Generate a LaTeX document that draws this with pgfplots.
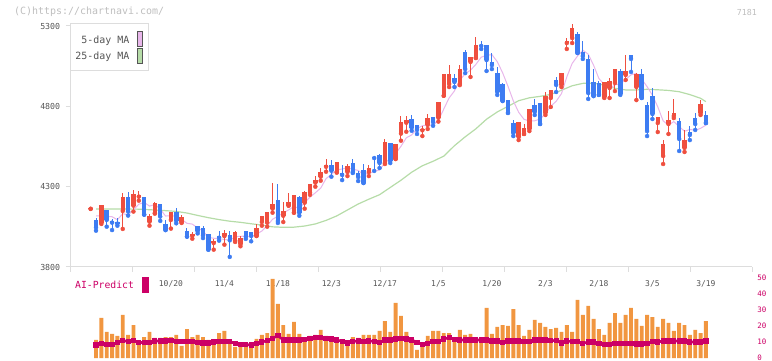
\documentclass[border=0pt]{standalone}
\usepackage{fontspec}
\setmainfont{DejaVu Sans Mono}
\usepackage{pgfplots}
\usepackage{pgfplotstable}
\pgfplotsset{compat=1.18}
\definecolor{candred}{RGB}{239,79,63}
\definecolor{candblue}{RGB}{61,124,242}
\definecolor{volorange}{RGB}{241,150,64}
\definecolor{aimag}{RGB}{204,0,102}
\definecolor{mapink}{RGB}{232,182,234}
\definecolor{magreen}{RGB}{182,220,168}
\definecolor{axisgray}{RGB}{221,221,221}
\definecolor{labgray}{RGB}{85,85,85}
\definecolor{copygray}{RGB}{190,190,190}

\pgfplotstableread{
x o h l c
-1 4162 4168 4162 4168
1 4076 4186 4068 4186
5 4149 4261 4037 4236
7 4182 4278 4145 4254
8 4238 4270 4213 4251
10 4082 4130 4057 4117
11 4136 4207 4132 4198
14 4093 4143 4039 4143
16 4078 4122 4074 4111
18 3994 4018 3976 4005
22 3949 3972 3908 3964
24 3992 4032 3939 4010
26 3964 4026 3956 4018
27 3941 3991 3929 3978
30 3993 4068 3993 4043
31 4080 4117 4057 4117
32 4076 4143 4051 4142
33 4163 4323 4138 4192
35 4119 4205 4080 4149
36 4182 4261 4182 4205
37 4138 4248 4138 4248
39 4200 4273 4163 4267
40 4262 4317 4249 4317
41 4325 4366 4300 4341
42 4362 4416 4337 4391
43 4424 4472 4393 4435
45 4391 4454 4387 4454
47 4391 4441 4366 4429
51 4391 4435 4366 4416
54 4447 4597 4441 4578
56 4472 4566 4472 4566
57 4630 4740 4586 4702
58 4698 4740 4642 4715
61 4651 4678 4615 4657
62 4684 4752 4659 4727
64 4729 4827 4705 4827
65 4866 5001 4866 5001
66 4939 5057 4920 5001
68 4939 5057 4932 5032
70 5076 5107 4983 5107
71 5101 5232 5101 5182
79 4609 4702 4590 4702
80 4628 4690 4628 4665
81 4659 4783 4646 4783
84 4759 4889 4746 4864
85 4852 4902 4796 4902
87 4933 5007 4920 5007
88 5194 5225 5157 5207
89 5225 5312 5194 5288
95 4858 4951 4852 4951
96 4914 4976 4852 4958
97 4945 5032 4895 5032
99 4995 5120 4964 5020
101 4920 5007 4839 5001
105 4696 4734 4640 4734
106 4491 4590 4441 4566
107 4690 4771 4628 4715
108 4740 4846 4727 4758
110 4541 4653 4516 4590
113 4758 4839 4746 4815
}\upc

\pgfplotstableread{
x o h l c
0 4093 4103 4026 4045
2 4155 4155 4051 4093
3 4089 4099 4030 4076
4 4082 4103 4057 4070
6 4236 4268 4120 4145
9 4236 4236 4126 4126
12 4192 4192 4087 4114
13 4068 4093 4030 4030
15 4143 4168 4072 4089
17 4024 4043 3989 3989
19 4055 4055 4009 4022
20 4043 4055 3980 3997
21 4005 4005 3908 3908
23 3993 4024 3964 3982
25 3997 4024 3863 3966
28 4026 4026 3975 3989
29 4018 4018 3960 3993
34 4217 4317 4074 4086
38 4236 4242 4119 4138
44 4435 4466 4362 4399
46 4385 4435 4341 4373
48 4447 4472 4385 4391
49 4385 4398 4335 4360
50 4404 4441 4323 4323
52 4485 4491 4398 4478
53 4497 4503 4416 4447
55 4572 4572 4447 4460
59 4721 4746 4648 4667
60 4684 4684 4628 4653
63 4734 4734 4679 4702
67 4976 5001 4920 4951
69 5138 5151 5007 5032
72 5182 5207 5157 5176
73 5182 5182 5020 5088
74 5076 5132 5032 5057
75 5007 5045 4871 4889
76 4939 4945 4833 4833
77 4839 4839 4759 4759
78 4696 4715 4615 4634
82 4808 4846 4746 4765
83 4821 4821 4690 4690
86 4964 4983 4889 4933
90 5250 5263 5132 5132
91 5138 5207 5095 5113
92 5095 5120 4846 4883
93 4951 5032 4864 4864
94 4945 4958 4871 4871
98 5020 5032 4871 4877
100 5120 5120 5014 5095
102 5001 5032 4852 4852
103 4808 4827 4615 4646
104 4864 4914 4721 4752
109 4709 4727 4522 4597
111 4640 4678 4590 4622
112 4727 4758 4653 4690
114 4746 4771 4696 4696
}\downc

\pgfplotstableread{
x v
0 4118
1 4117
2 4115
3 4113
4 4094
5 4132
6 4124
7 4156
8 4191
9 4202
10 4179
11 4189
12 4161
13 4117
14 4120
15 4115
16 4097
17 4072
18 4067
19 4043
20 4025
21 3984
22 3979
23 3975
24 3972
25 3966
26 3988
27 3991
28 3992
29 3989
30 4004
31 4024
32 4057
33 4097
34 4116
35 4137
36 4155
37 4176
38 4165
39 4201
40 4235
41 4262
42 4291
43 4350
44 4377
45 4404
46 4410
47 4418
48 4409
49 4401
50 4375
51 4384
52 4394
53 4405
54 4448
55 4476
56 4506
57 4551
58 4604
59 4622
60 4661
61 4679
62 4684
63 4681
64 4713
65 4783
66 4852
67 4896
68 4962
69 5003
70 5025
71 5061
72 5106
73 5117
74 5122
75 5078
76 5009
77 4925
78 4834
79 4763
80 4719
81 4709
82 4710
83 4721
84 4753
85 4801
86 4831
87 4879
88 4983
89 5067
90 5113
91 5149
92 5125
93 5056
94 4973
95 4936
96 4905
97 4935
98 4938
99 4968
100 4996
101 5005
102 4969
103 4923
104 4869
105 4797
106 4710
107 4683
108 4705
109 4674
110 4645
111 4656
112 4651
113 4663
114 4683
}\mafive

\pgfplotstableread{
x v
0 4161
4 4161
8 4160
12 4153
15 4146
17 4136
19 4121
21 4107
23 4095
25 4085
27 4078
29 4069
31 4061
33 4050
35 4047
37 4048
39 4055
41 4068
43 4090
45 4118
47 4155
49 4192
51 4222
53 4250
55 4295
57 4340
59 4390
61 4430
63 4458
65 4490
67 4555
69 4610
71 4660
73 4720
75 4765
77 4800
79 4835
81 4853
83 4862
85 4874
87 4900
89 4928
91 4943
93 4944
95 4932
97 4912
99 4902
101 4902
103 4906
105 4903
107 4899
109 4891
111 4873
113 4850
114 4829
}\matwentyfive

\pgfplotstableread{
x v
0 11.25
1 25
2 16.25
3 15
4 13.75
5 26.9
6 14.4
7 20.6
8 10.6
9 13.1
10 16.25
11 12.5
12 12.5
13 13.1
14 13.1
15 14.4
16 7.5
17 18.1
18 13.1
19 14.4
20 13.1
21 11.25
22 11.25
23 15.6
24 16.9
25 11.25
26 6.9
27 8.1
28 6.9
29 6.9
30 11.9
31 14.4
32 15.6
33 49.4
34 33.75
35 20.6
36 15
37 22.5
38 15
39 13.1
40 13.75
41 14.4
42 17.5
43 13.75
44 11.25
45 13.1
46 10
47 8.75
48 13.1
49 12.5
50 14.4
51 14.4
52 14.4
53 16.9
54 23.1
55 16.25
56 34.4
57 26.25
58 16.25
59 13.1
60 5
61 7.5
62 13.75
63 16.9
64 16.9
65 15.6
66 15.6
67 13.1
68 17.5
69 14.4
70 15
71 13.1
72 13.1
73 31.25
74 15
75 19.4
76 20.6
77 20
78 30.6
79 20.6
80 13.75
81 17.5
82 23.75
83 21.9
84 19.4
85 18.1
86 18.75
87 16.25
88 20.6
89 16.25
90 36.25
91 26.9
92 32.5
93 24.4
94 18.1
95 14.4
96 21.9
97 28.1
98 21.9
99 26.9
100 31.25
101 24.4
102 20
103 26.9
104 25.6
105 19.4
106 24.4
107 21.9
108 16.9
109 21.9
110 20.6
111 14.4
112 17.5
113 15.6
114 23.1
}\vol

\pgfplotstableread{
x v
0 8.1
1 9.0
2 8.6
3 8.6
4 9.6
5 10.8
6 10.4
7 11.0
8 9.6
9 9.8
10 9.8
11 10.6
12 10.6
13 10.6
14 11.0
15 10.2
16 10.2
17 10.2
18 10.2
19 9.6
20 9.4
21 9.4
22 10.0
23 10.2
24 10.2
25 10.2
26 9.2
27 8.4
28 8.4
29 8.1
30 9.2
31 10.0
32 10.8
33 12.3
34 14.0
35 11.25
36 11.25
37 11.25
38 11.25
39 11.7
40 12.1
41 12.7
42 12.7
43 12.1
44 11.9
45 11.25
46 10.4
47 9.4
48 10.4
49 10.6
50 10.2
51 10.6
52 10.4
53 9.6
54 11.25
55 11.25
56 11.9
57 12.3
58 11.9
59 11.25
60 9.8
61 8.5
62 9.2
63 10.4
64 10.4
65 11.9
66 12.7
67 11.7
68 11.25
69 11.25
70 11.25
71 11.25
72 11.25
73 11.25
74 10.6
75 10.6
76 9.9
77 10.6
78 10.6
79 10.6
80 10.4
81 10.4
82 11.25
83 11.25
84 11.25
85 11.0
86 10.8
87 9.4
88 10.6
89 10.2
90 10.2
91 9.2
92 10.0
93 10.0
94 9.2
95 8.5
96 8.5
97 9.2
98 9.2
99 9.2
100 9.2
101 8.8
102 8.8
103 9.2
104 10.4
105 10.0
106 10.6
107 10.6
108 10.6
109 10.6
110 10.6
111 10.0
112 10.0
113 10.0
114 10.6
}\ai

\begin{document}
\begin{tikzpicture}
\path[use as bounding box] (0bp,0bp) rectangle (772bp,361bp);
\begin{axis}[
  at={(70.7bp,94bp)}, anchor=south west,
  scale only axis, width=681.6bp, height=241bp,
  xmin=-4.73, xmax=122.67, ymin=3800, ymax=5300,
  clip=false,
  axis x line=bottom, axis y line=left,
  every outer x axis line/.append style={-},
  every outer y axis line/.append style={-},
  axis line style={axisgray, line width=1bp, -},
  tick style={axisgray, line width=1bp},
  tick align=outside, major tick length=5bp,
  ytick={3800,4300,4800,5300},
  xtick={-4.73,6.85,18.43,30.01,41.59,53.18,64.76,76.34,87.92,99.50,111.08,122.67},
  xticklabels={},
  /pgf/number format/assume math mode=true,
  /pgf/number format/1000 sep={},
  yticklabel style={font=\fontsize{8.3}{10}\selectfont, text=labgray, xshift=-2bp},
  extra x ticks={14,24,34,44,54,64,74,84,94,104,114},
  extra x tick labels={10/20,11/4,11/18,12/3,12/17,1/5,1/20,2/3,2/18,3/5,3/19},
  extra x tick style={major tick length=0pt, tick style={draw=none},
     xticklabel style={yshift=-10bp, font=\fontsize{8}{10}\selectfont, text=labgray}},
]
\addplot[magreen, line width=1.2bp, no markers] table[x=x,y=v] {\matwentyfive};
\addplot[mapink, line width=1bp, no markers] table[x=x,y=v] {\mafive};
% wicks
\addplot[only marks, mark=none, candred,
  error bars/.cd, y dir=plus, y explicit, error mark=none,
  error bar style={line width=1bp, candred}]
  table[x=x, y=l, y error expr=\thisrow{h}-\thisrow{l}] {\upc};
\addplot[only marks, mark=none, candblue,
  error bars/.cd, y dir=plus, y explicit, error mark=none,
  error bar style={line width=1bp, candblue}]
  table[x=x, y=l, y error expr=\thisrow{h}-\thisrow{l}] {\downc};
% bodies
\addplot[only marks, mark=none, candred,
  error bars/.cd, y dir=plus, y explicit, error mark=none,
  error bar style={line width=4.5bp, candred}]
  table[x=x, y=o, y error expr=\thisrow{c}-\thisrow{o}] {\upc};
\addplot[only marks, mark=none, candblue,
  error bars/.cd, y dir=plus, y explicit, error mark=none,
  error bar style={line width=4.5bp, candblue}]
  table[x=x, y=c, y error expr=\thisrow{o}-\thisrow{c}] {\downc};
\end{axis}

\begin{axis}[
  at={(70.7bp,3bp)}, anchor=south west,
  scale only axis, width=681.6bp, height=80bp,
  xmin=-4.73, xmax=122.67, ymin=0, ymax=50,
  clip=false,
  axis line style={draw=none},
  xtick=\empty,
  ytick={0,10,20,30,40,50},
  yticklabel pos=right,
  major tick length=0pt, tick style={draw=none},
  /pgf/number format/assume math mode=true,
  yticklabel style={font=\fontsize{7.5}{9}\selectfont, text=aimag, xshift=1.5bp},
]
\addplot[ybar, bar width=3.9bp, fill=volorange, draw=none] table[x=x,y=v] {\vol};
\addplot[aimag, line width=2.6bp, mark=square*, mark size=1.3bp] table[x=x,y=v] {\ai};
\end{axis}

% legend
\filldraw[fill=white, draw=axisgray, line width=1bp] (70.7bp,337bp) rectangle (148.3bp,290bp);
\node[anchor=east, text=labgray, font=\fontsize{10}{12}\selectfont, inner sep=0pt] at (129.5bp,320bp) {5-day MA};
\node[anchor=east, text=labgray, font=\fontsize{10}{12}\selectfont, inner sep=0pt] at (129.5bp,304bp) {25-day MA};
\filldraw[fill=mapink, draw=labgray, line width=0.8bp] (137bp,329.3bp) rectangle (142.5bp,314.7bp);
\filldraw[fill=magreen, draw=labgray, line width=0.8bp] (137bp,312.7bp) rectangle (142.5bp,297.7bp);

% AI-Predict label
\node[anchor=west, text=aimag, font=\fontsize{9.8}{11}\selectfont, inner sep=0pt] at (75bp,76bp) {AI-Predict};
\fill[aimag] (142.3bp,68.3bp) rectangle (149bp,83.7bp);

% header texts
\node[anchor=west, text=copygray, font=\fontsize{10}{12}\selectfont, inner sep=0pt] at (14bp,349bp) {(C)https://chartnavi.com/};
\node[anchor=east, text=copygray, font=\fontsize{8.3}{10}\selectfont, inner sep=0pt] at (757bp,349bp) {7181};
\end{tikzpicture}
\end{document}
